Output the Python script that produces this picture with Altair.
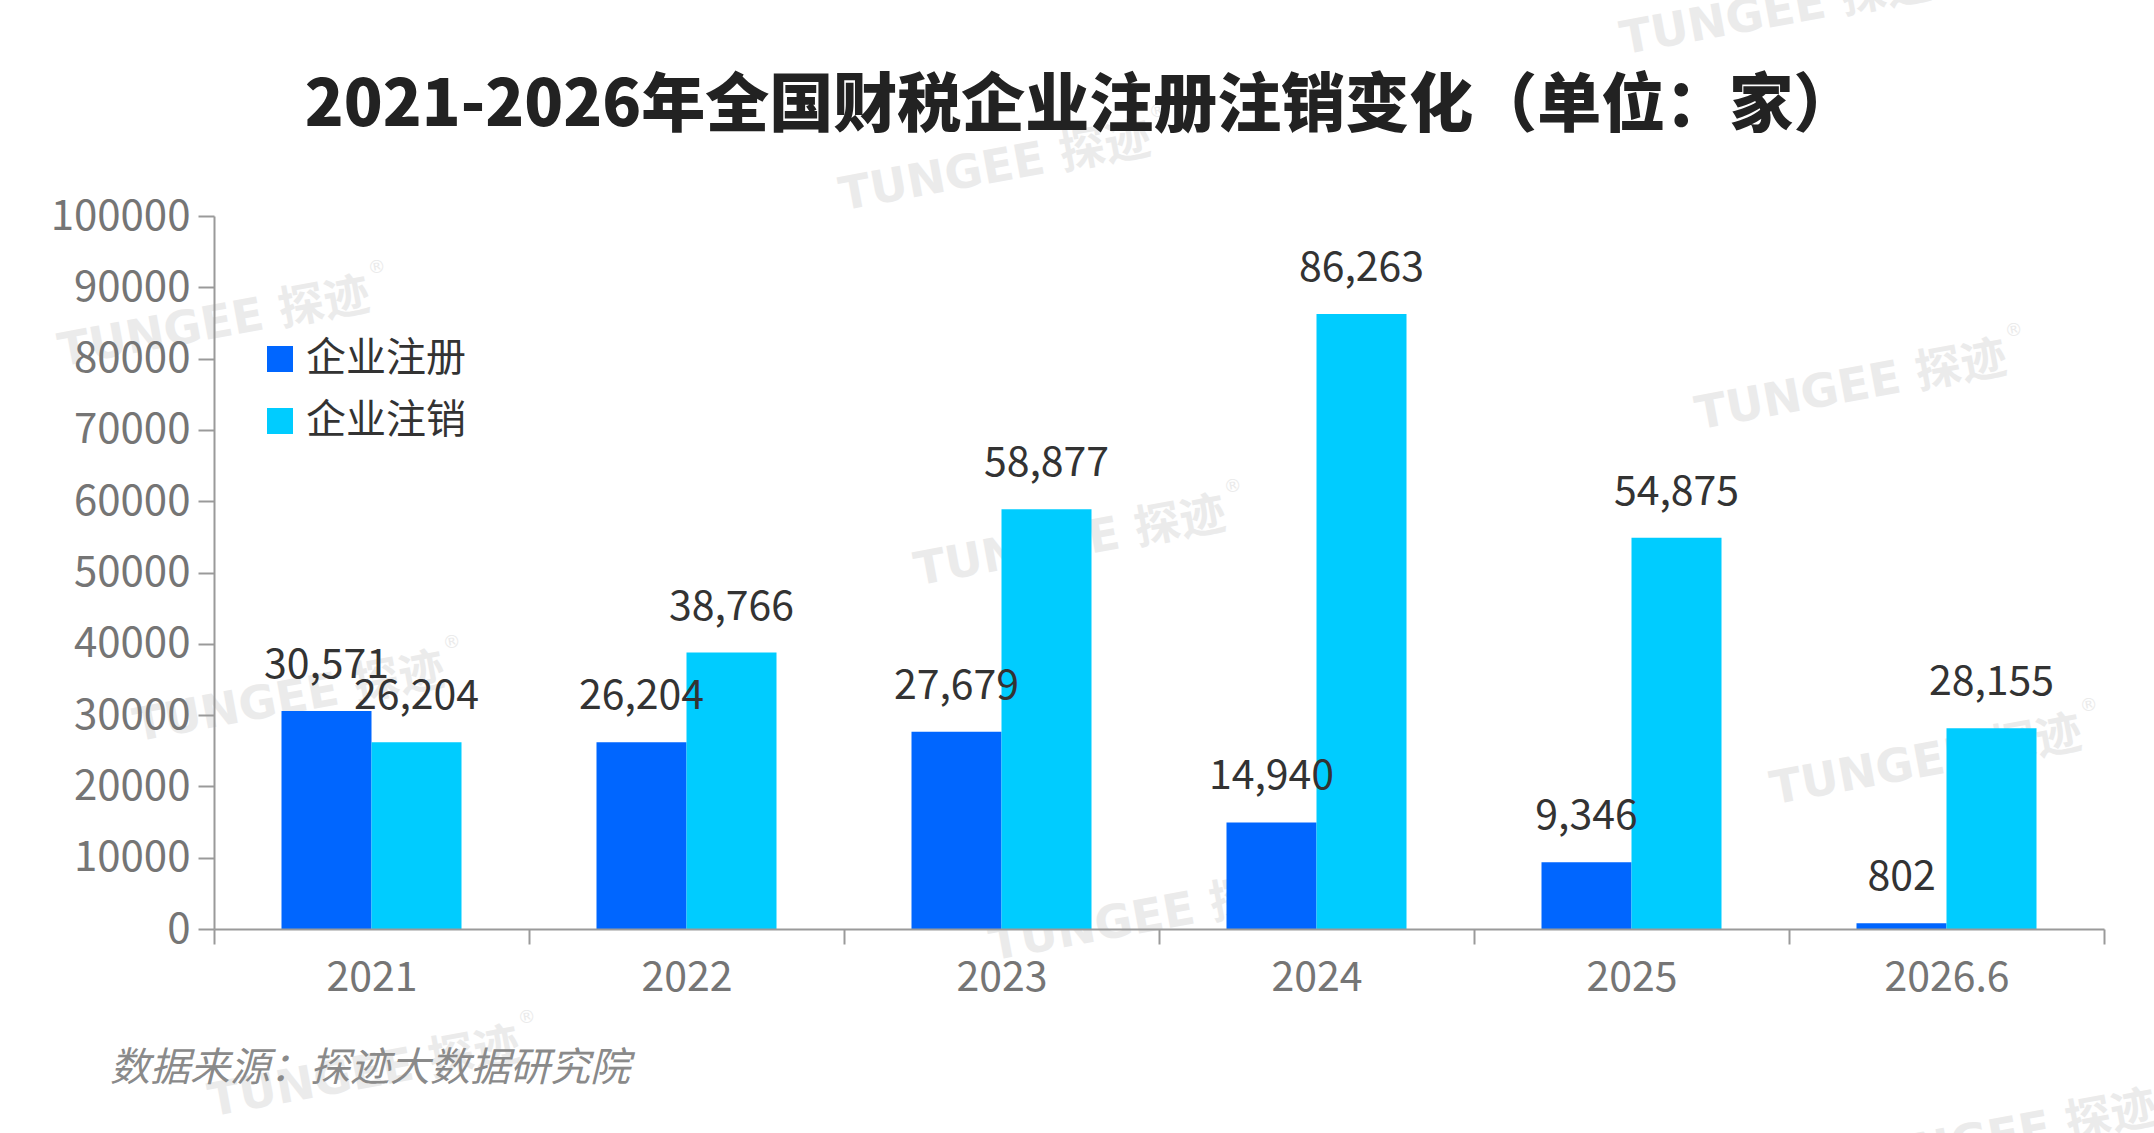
import altair as alt
import pandas as pd

# Chart data
years = ["2021", "2022", "2023", "2024", "2025", "2026.6"]
series = ["企业注册", "企业注销"]
registered = [30571, 26204, 27679, 14940, 9346, 802]
cancelled = [26204, 38766, 58877, 86263, 54875, 28155]
colors = ["#0066FF", "#00CCFF"]

title_text = "2021-2026年全国财税企业注册注销变化（单位：家）"
source_text = "数据来源：探迹大数据研究院"
watermark_text = "TUNGEE 探迹"

rows = []
for i, yr in enumerate(years):
    rows.append({"year": yr, "series": series[0], "value": registered[i]})
    rows.append({"year": yr, "series": series[1], "value": cancelled[i]})
df = pd.DataFrame(rows)
df["label"] = df["value"].map(lambda v: f"{v:,}")

W, H = 1890, 713
LEFT, TOP = 214, 216
FONT = "Noto Sans CJK SC"

# Tiled brand watermark: a diagonal lattice of stamps across the canvas
# (positions of the ® mark in canvas pixels, converted to plot-area pixels).
mark_origin = (377, 268)
step_row = (781, -156)
step_col = (75, 375)
stamps = []
for i in range(-1, 3):
    for j in range(-1, 4):
        px = mark_origin[0] + i * step_row[0] + j * step_col[0]
        py = mark_origin[1] + i * step_row[1] + j * step_col[1]
        if -60 < py < 1200 and 0 < px < 2500:
            stamps.append({"rx": px - LEFT, "ry": py - TOP,
                           "tx": px - 5 - LEFT, "ty": py + 41 - TOP})
wm = pd.DataFrame(stamps)
wm["t"] = watermark_text
wm["r"] = "®"

WM_COLOR = "#ebebeb"
watermark = alt.Chart(wm).mark_text(
    align="right", baseline="alphabetic", angle=349.5, fontSize=46, fontWeight="bold",
    font="DejaVu Sans, Noto Sans CJK SC", color=WM_COLOR,
).encode(
    x=alt.X("tx:Q", scale=None, axis=None),
    y=alt.Y("ty:Q", scale=None, axis=None),
    text="t:N",
)
watermark_r = alt.Chart(wm).mark_text(
    align="center", baseline="middle", angle=349.5, fontSize=18, font="DejaVu Sans",
    color=WM_COLOR,
).encode(
    x=alt.X("rx:Q", scale=None, axis=None),
    y=alt.Y("ry:Q", scale=None, axis=None),
    text="r:N",
)

# Category bands touch each other so the band-extent ticks sit on the boundaries;
# the bar pair is narrowed through the offset scale's outer padding.
x_enc = alt.X(
    "year:N",
    sort=years,
    scale=alt.Scale(paddingInner=0, paddingOuter=0),
    axis=alt.Axis(
        title=None,
        labelAngle=0,
        labelFontSize=41,
        labelColor="#757575",
        labelFont=FONT,
        labelPadding=14,
        tickBand="extent",
        tickSize=15,
        tickColor="#9a9a9a",
        tickWidth=2,
        domainColor="#9a9a9a",
        domainWidth=2,
        grid=False,
        zindex=1,
    ),
)
xoff_enc = alt.XOffset(
    "series:N", sort=series, scale=alt.Scale(paddingInner=0, paddingOuter=0.75)
)
y_enc = alt.Y(
    "value:Q",
    scale=alt.Scale(domain=[0, 100000], nice=False),
    axis=alt.Axis(
        title=None,
        values=list(range(0, 100001, 10000)),
        format="d",
        labelFontSize=42,
        labelColor="#757575",
        labelFont=FONT,
        labelPadding=8,
        tickSize=16,
        tickColor="#9a9a9a",
        tickWidth=2,
        domainColor="#9a9a9a",
        domainWidth=2,
        grid=False,
        zindex=1,
    ),
)

base = alt.Chart(df).encode(x=x_enc, xOffset=xoff_enc, y=y_enc)

bars = base.mark_bar().encode(
    color=alt.Color(
        "series:N",
        sort=series,
        scale=alt.Scale(domain=series, range=colors),
        legend=alt.Legend(
            title=None,
            orient="none",
            legendX=46,
            legendY=123,
            direction="vertical",
            symbolType="square",
            symbolSize=676,
            symbolStrokeWidth=0,
            labelFontSize=40,
            labelFont=FONT,
            labelColor="#333333",
            labelOffset=6,
            rowPadding=22,
            padding=0,
            zindex=2,
        ),
    )
)

labels = base.mark_text(
    dy=-45, baseline="middle", align="center", fontSize=41, font=FONT, color="#333333"
).encode(text="label:N")

# Heading and source note, placed relative to the plot area
heading = alt.Chart(pd.DataFrame({"t": [title_text]})).mark_text(
    align="center", baseline="middle", fontSize=64, fontWeight=900, font=FONT, color="#222222"
).encode(x=alt.value(867), y=alt.value(-109), text="t:N")

source = alt.Chart(pd.DataFrame({"t": [source_text]})).mark_text(
    align="left", baseline="middle", fontSize=40, font=FONT, fontStyle="italic", color="#8a8a8a"
).encode(x=alt.value(-104), y=alt.value(853), text="t:N")

chart = (
    alt.layer(watermark, watermark_r, bars, labels, heading, source)
    .properties(
        width=W,
        height=H,
        autosize=alt.AutoSizeParams(type="none"),
        padding={"left": LEFT, "top": TOP, "right": 50, "bottom": 204},
        background="white",
    )
    .configure_view(stroke=None)
)

chart.save("out.html", embed_options={"renderer": "svg", "actions": False})
